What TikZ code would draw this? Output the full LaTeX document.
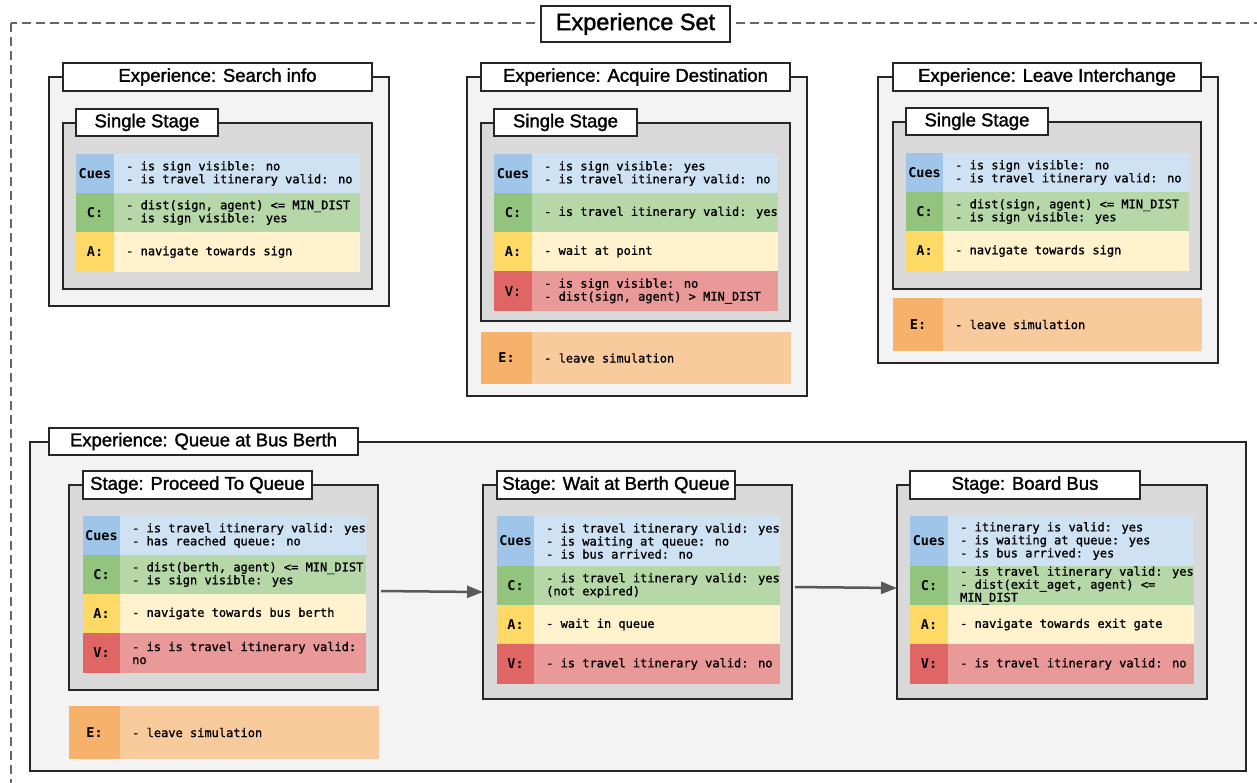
\documentclass[tikz,border=0pt]{standalone}
\usepackage{fontspec}
\usetikzlibrary{arrows.meta}
\setmainfont{Liberation Sans}
\newfontfamily\titlefont{Liberation Sans}[FakeBold=1.6]
\newfontfamily\monofnt{DejaVu Sans Mono}[FakeBold=1.2]
\newfontfamily\monolab{DejaVu Sans Mono Bold}
\definecolor{expfill}{HTML}{F3F3F3}
\definecolor{stagefill}{HTML}{D9D9D9}
\definecolor{cueL}{HTML}{9FC5E8}\definecolor{cueB}{HTML}{CFE2F3}
\definecolor{cL}{HTML}{93C47D}\definecolor{cB}{HTML}{B6D7A8}
\definecolor{aL}{HTML}{FFD966}\definecolor{aB}{HTML}{FFF2CC}
\definecolor{vL}{HTML}{E06666}\definecolor{vB}{HTML}{EA9999}
\definecolor{eL}{HTML}{F6B26B}\definecolor{eB}{HTML}{F9CB9C}
\definecolor{edge}{HTML}{262626}
\tikzset{
  boxbase/.style={anchor=north west, inner sep=0pt, outer sep=0pt, line width=1.5pt, draw=edge},
  expbox/.style={boxbase, fill=expfill},
  stagebox/.style={boxbase, fill=stagefill},
  titlebox/.style={boxbase, fill=white, font=\titlefont\fontsize{18.5}{20}\selectfont},
  settitle/.style={boxbase, fill=white, font=\titlefont\fontsize{23.5}{25}\selectfont},
  labcell/.style={anchor=north west, inner sep=0pt, outer sep=0pt, font=\monolab\fontsize{13.5}{14}\selectfont},
  bodcell/.style={anchor=north west, inner sep=0pt, outer sep=0pt},
  bodtext/.style={anchor=west, inner sep=0pt, align=left, font=\monofnt\fontsize{12}{13}\selectfont},
  arr/.style={draw=black!65, line width=2.5pt, -{Triangle[length=16pt,width=12pt]}, shorten <=3pt},
  setframe/.style={draw=black!60, line width=1.2pt, dash pattern=on 9pt off 5pt}
}
% box: style, name, x1, y1, x2, y2, text
\newcommand{\bx}[7]{\node[#1, minimum width={#5-#3}, minimum height={#6-#4}] (#2) at (#3,#4) {#7};}
% row: name, xleft, xlab, xright, ytop, ybot, key, label, body
\newcommand{\trow}[9]{%
  \node[labcell, fill=#7L, minimum width={#3-#2}, minimum height={#6-#5}] (#1l) at (#2,#5) {#8};
  \node[bodcell, fill=#7B, minimum width={#4-#3}, minimum height={#6-#5}] (#1b) at (#3,#5) {};
  \node[bodtext] (#1t) at ([xshift=12pt]#1b.west) {#9};}
\begin{document}
\begin{tikzpicture}[x=1pt,y=-1pt]
\useasboundingbox (0,0) rectangle (1257,782);
\clip (0,0) rectangle (1257,782);
\fill[white] (0,0) rectangle (1257,782);
% experience set frame
\draw[setframe] (11,23) rectangle (1300,830);
\bx{settitle}{set}{541}{6}{730}{42}{Experience Set}

% ---- Experience: Search info
\bx{expbox}{e1}{49}{77}{389}{306}{}
\bx{titlebox}{e1t}{63}{63}{372}{91}{Experience: Search info}
\bx{stagebox}{s1}{63}{123}{372}{289}{}
\bx{titlebox}{s1t}{76}{109}{218}{136}{Single Stage}
\trow{s1cue}{76}{114}{360}{154}{193}{cue}{Cues}{- is sign visible: no\\- is travel itinerary valid: no}
\trow{s1c}{76}{114}{360}{193}{232}{c}{C:}{- dist(sign, agent) <= MIN\_DIST\\- is sign visible: yes}
\trow{s1a}{76}{114}{360}{232}{272}{a}{A:}{- navigate towards sign}

% ---- Experience: Acquire Destination
\bx{expbox}{e2}{467}{77}{807}{396}{}
\bx{titlebox}{e2t}{481}{63}{790}{91}{Experience: Acquire Destination}
\bx{stagebox}{s2}{481}{123}{790}{321}{}
\bx{titlebox}{s2t}{494}{109}{637}{136}{Single Stage}
\trow{s2cue}{494}{532}{778}{154}{193}{cue}{Cues}{- is sign visible: yes\\- is travel itinerary valid: no}
\trow{s2c}{494}{532}{778}{193}{232}{c}{C:}{- is travel itinerary valid: yes}
\trow{s2a}{494}{532}{778}{232}{271}{a}{A:}{- wait at point}
\trow{s2v}{494}{532}{778}{271}{311}{v}{\monofnt V:}{- is sign visible: no\\- dist(sign, agent) > MIN\_DIST}
\trow{e2e}{481}{532}{791}{332}{384}{e}{E:}{- leave simulation}

% ---- Experience: Leave Interchange
\bx{expbox}{e3}{878}{77}{1218}{363}{}
\bx{titlebox}{e3t}{893}{63}{1201}{91}{Experience: Leave Interchange}
\bx{stagebox}{s3}{893}{122}{1201}{289}{}
\bx{titlebox}{s3t}{906}{108}{1048}{135}{Single Stage}
\trow{s3cue}{906}{943}{1189}{153}{192}{cue}{Cues}{- is sign visible: no\\- is travel itinerary valid: no}
\trow{s3c}{906}{943}{1189}{192}{231}{c}{C:}{- dist(sign, agent) <= MIN\_DIST\\- is sign visible: yes}
\trow{s3a}{906}{943}{1189}{231}{271}{a}{A:}{- navigate towards sign}
\trow{e3e}{893}{943}{1202}{298}{351}{e}{E:}{- leave simulation}

% ---- Experience: Queue at Bus Berth
\bx{expbox}{e4}{30}{442}{1246}{771}{}
\bx{titlebox}{e4t}{49}{428}{358}{455}{Experience: Queue at Bus Berth}

\bx{stagebox}{s4}{69}{485}{378}{690}{}
\bx{titlebox}{s4t}{83}{471}{312}{499}{Stage: Proceed To Queue}
\trow{s4cue}{83}{120}{366}{516}{555}{cue}{Cues}{- is travel itinerary valid: yes\\- has reached queue: no}
\trow{s4c}{83}{120}{366}{555}{594}{c}{C:}{- dist(berth, agent) <= MIN\_DIST\\- is sign visible: yes}
\trow{s4a}{83}{120}{366}{594}{633}{a}{A:}{- navigate towards bus berth}
\trow{s4v}{83}{120}{366}{633}{673}{v}{V:}{- is is travel itinerary valid:\\no}
\trow{e4e}{69}{120}{379}{706}{759}{e}{E:}{- leave simulation}

\bx{stagebox}{s5}{483}{485}{792}{699}{}
\bx{titlebox}{s5t}{497}{471}{735}{499}{Stage: Wait at Berth Queue}
\trow{s5cue}{497}{534}{780}{516}{566}{cue}{Cues}{- is travel itinerary valid: yes\\- is waiting at queue: no\\- is bus arrived: no}
\trow{s5c}{497}{534}{780}{566}{605}{c}{C:}{- is travel itinerary valid: yes\\(not expired)}
\trow{s5a}{497}{534}{780}{605}{644}{a}{A:}{- wait in queue}
\trow{s5v}{497}{534}{780}{644}{684}{v}{V:}{- is travel itinerary valid: no}

\bx{stagebox}{s6}{897}{485}{1207}{699}{}
\bx{titlebox}{s6t}{910}{471}{1140}{499}{Stage: Board Bus}
\trow{s6cue}{910}{948}{1194}{516}{566}{cue}{Cues}{- itinerary is valid: yes\\- is waiting at queue: yes\\- is bus arrived: yes}
\trow{s6c}{910}{948}{1194}{566}{605}{c}{C:}{- is travel itinerary valid: yes\\- dist(exit\_aget, agent) <=\\MIN\_DIST}
\trow{s6a}{910}{948}{1194}{605}{644}{a}{A:}{- navigate towards exit gate}
\trow{s6v}{910}{948}{1194}{644}{684}{v}{V:}{- is travel itinerary valid: no}

% arrows
\draw[arr] (s4.east |- 0,591) -- (s5.west |- 0,592);
\draw[arr] (s5.east |- 0,587) -- (s6.west |- 0,588);
\end{tikzpicture}
\end{document}
